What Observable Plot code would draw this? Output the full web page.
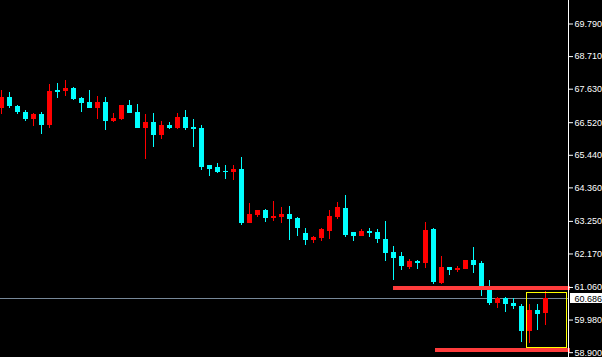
<!DOCTYPE html>
<html>
<head>
<meta charset="utf-8">
<script src="https://cdn.jsdelivr.net/npm/d3@7"></script>
<script src="https://cdn.jsdelivr.net/npm/@observablehq/plot@0.6"></script>
<style>
  html, body { margin: 0; padding: 0; background: #000; }
  #chart svg { display: block; }
</style>
</head>
<body>
<div id="chart"></div>
<script>
const opens  = [66.974,67.371,67.063,66.874,66.642,66.775,66.443,67.580,67.537,67.669,67.305,67.205,66.974,67.205,66.543,66.642,67.073,66.874,66.344,66.510,66.112,66.443,66.344,66.708,66.377,66.344,65.085,65.019,64.919,64.853,64.985,63.196,63.461,63.594,63.329,63.395,63.494,63.329,62.832,62.600,62.699,62.931,63.395,63.693,62.865,62.765,62.931,62.865,62.666,62.235,62.070,61.738,61.904,61.838,62.997,61.208,61.738,61.606,61.672,61.970,61.838,60.976,60.545,60.711,60.545,60.446,59.617,60.313,60.181];
const highs  = [67.603,67.504,67.106,66.940,66.841,66.874,67.769,67.835,67.934,67.679,67.371,67.603,67.404,67.371,66.808,67.106,67.239,67.139,66.775,66.808,66.543,66.510,66.841,66.940,66.642,66.443,65.085,65.184,65.118,65.085,65.350,63.826,63.594,63.627,63.925,63.726,63.759,63.395,63.030,62.765,63.030,63.594,63.859,64.091,62.865,62.997,63.030,62.997,63.262,62.434,62.235,62.003,61.970,63.229,63.030,62.070,61.738,61.771,61.970,62.368,61.937,61.307,60.744,60.744,60.678,60.512,60.512,60.512,60.943];
const lows   = [66.775,66.983,66.798,66.553,66.410,66.145,66.311,67.305,67.404,67.239,66.874,66.974,66.642,66.245,66.510,66.576,66.841,66.311,65.284,65.714,65.979,66.278,66.278,66.245,65.714,64.952,64.753,64.820,64.654,64.588,63.097,63.196,63.395,63.229,63.262,63.196,62.600,62.765,62.467,62.533,62.567,62.633,63.296,62.732,62.567,62.765,62.732,62.533,61.904,61.307,61.606,61.639,61.639,61.705,61.142,61.142,61.473,61.572,61.639,61.539,60.777,60.479,60.379,60.247,60.346,59.253,59.219,59.650,59.816];
const closes = [67.371,67.040,66.851,66.642,66.775,66.443,67.570,67.514,67.669,67.272,67.172,66.974,67.205,66.543,66.675,67.073,66.841,66.344,66.510,66.112,66.443,66.344,66.708,66.344,66.278,65.019,64.985,64.886,64.853,64.985,63.196,63.494,63.594,63.329,63.428,63.494,63.296,63.030,62.600,62.732,62.997,63.428,63.726,62.798,62.765,62.931,62.832,62.633,62.202,62.036,61.771,61.904,61.838,62.964,61.241,61.738,61.606,61.705,61.970,61.804,61.042,60.545,60.678,60.512,60.446,59.617,60.313,60.148,60.686];

const tickValues = [69.790, 68.710, 67.630, 66.520, 65.440, 64.360, 63.250, 62.170, 61.060, 59.980, 58.900];
const bidPrice = 60.686;
const levelPrices = [61.04, 59.00];
const levelStarts = [48.94, 54.19];
const zoneStart = 65.625, zoneEnd = 70.625, zoneTop = 60.893, zoneBottom = 59.038;

const candles = opens.map((o, i) => ({
  i, open: o, high: highs[i], low: lows[i], close: closes[i],
  bull: closes[i] >= o
}));
const levels = levelPrices.map((p, k) => ({price: p, start: levelStarts[k]}));

const W = 602, H = 357, MR = 34;
const xDomain = [-0.125, 70.875];
const xEnd = xDomain[1];
const unitsPerPx = (xDomain[1] - xDomain[0]) / (W - MR);
const half = 2.5 * unitsPerPx;

const BULL = "#ff0000", BEAR = "#00ffff";
const crisp = {shapeRendering: "crispEdges"};

const chart = Plot.plot({
  width: W, height: H,
  marginTop: 0, marginBottom: 0, marginLeft: 0, marginRight: MR,
  style: {background: "#000", color: "#fff", fontFamily: "Liberation Sans, Arial, sans-serif", fontSize: "9px"},
  x: {domain: xDomain, axis: null},
  y: {domain: [58.7396, 70.5687], axis: null},
  marks: [
    Plot.ruleY([bidPrice], {y: d => d, stroke: "#778899", ...crisp}),
    Plot.ruleX(candles, {x: "i", y1: "low", y2: "high", stroke: d => d.bull ? BULL : BEAR, strokeWidth: 1, ...crisp}),
    Plot.rect(candles, {x1: d => d.i - half, x2: d => d.i + half, y1: "open", y2: "close", fill: d => d.bull ? BULL : BEAR, ...crisp}),
    Plot.ruleY(levels, {y: "price", x1: "start", x2: () => xEnd + 2 * unitsPerPx, stroke: "#ff3c3c", strokeWidth: 4, ...crisp}),
    Plot.rect([{x1: zoneStart, x2: zoneEnd, y1: zoneTop, y2: zoneBottom}], {x1: "x1", x2: "x2", y1: "y1", y2: "y2", fill: "none", stroke: "#ffff00", strokeWidth: 1, ...crisp}),
    Plot.ruleX([xEnd], {x: d => d, stroke: "#fff", ...crisp}),
    Plot.axisY(tickValues, {anchor: "right", tickSize: 4, tickPadding: 2, tickFormat: d => d.toFixed(3), label: null, fill: "#fff", stroke: "#fff"}),
    Plot.rect([bidPrice], {x1: () => xEnd + 1.5 * unitsPerPx, x2: () => xEnd + MR * unitsPerPx, y1: d => d, y2: d => d, insetTop: -5, insetBottom: -5, fill: "#fff", ...crisp}),
    Plot.text([bidPrice], {x: () => xEnd, y: d => d, dx: 6, textAnchor: "start", fill: "#000", text: d => d.toFixed(3)})
  ]
});
document.getElementById("chart").appendChild(chart);
</script>
</body>
</html>
